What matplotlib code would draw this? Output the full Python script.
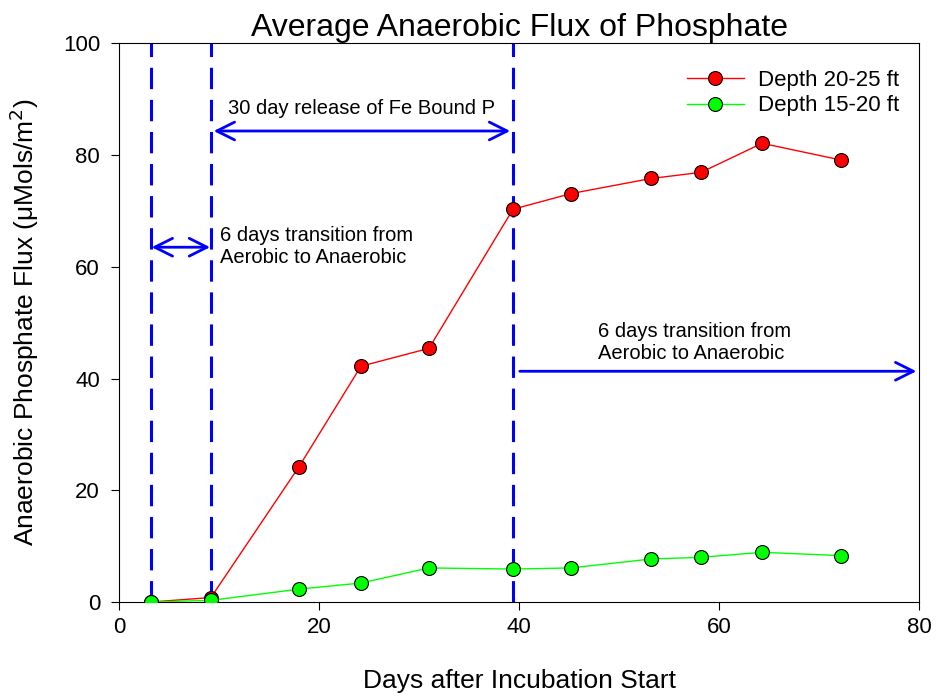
import numpy as np
import matplotlib.pyplot as plt

plt.rcParams['font.family'] = ['Liberation Sans', 'DejaVu Sans']

# data
days = [3.2, 9.2, 18.0, 24.2, 31.0, 39.4, 45.2, 53.2, 58.2, 64.3, 72.2]
flux_deep = [0.0, 0.8, 24.2, 42.2, 45.4, 70.3, 73.1, 75.8, 76.9, 82.1, 79.1]
flux_shallow = [0.0, 0.3, 2.3, 3.4, 6.1, 5.9, 6.1, 7.7, 8.0, 8.9, 8.3]

phase_days = [3.2, 9.2, 39.4]

fig = plt.figure(figsize=(9.36, 6.98), dpi=100)
ax = fig.add_axes([0.127, 0.1375, 0.855, 0.8005])

# phase boundaries
for d in phase_days:
    ax.axvline(d, color='#0000ff', ls=(0, (7, 3.5)), lw=2.2, zorder=1)

ax.plot(days, flux_deep, color='red', lw=1, marker='o', ms=10,
        mfc='red', mec='black', mew=0.8, label='Depth 20-25 ft', zorder=3)
ax.plot(days, flux_shallow, color='#00ff00', lw=1, marker='o', ms=10,
        mfc='#00ff00', mec='black', mew=0.8, label='Depth 15-20 ft', zorder=3)

# arrows
arr = dict(arrowstyle='<->', color='#0000ff', lw=2, mutation_scale=32)
ax.annotate('', xy=(9.2, 84.3), xytext=(39.4, 84.3), arrowprops=arr)
ax.annotate('', xy=(3.0, 63.5), xytext=(9.4, 63.5), arrowprops=arr)
ax.annotate('', xy=(80, 41.3), xytext=(39.8, 41.3),
            arrowprops=dict(arrowstyle='->', color='#0000ff', lw=2, mutation_scale=32),
            annotation_clip=False)

ax.text(24.3, 88.4, '30 day release of Fe Bound P', ha='center', va='center', fontsize=14.5)
ax.text(10.1, 63.6, '6 days transition from\nAerobic to Anaerobic', ha='left',
        va='center', fontsize=14.5, linespacing=1.2)
ax.text(47.9, 46.4, '6 days transition from\nAerobic to Anaerobic', ha='left',
        va='center', fontsize=14.5, linespacing=1.2)

ax.set_xlim(0, 80)
ax.set_ylim(0, 100)
ax.set_xticks([0, 20, 40, 60, 80])
ax.set_yticks([0, 20, 40, 60, 80, 100])
ax.tick_params(labelsize=16, direction='out', top=False, right=False)
ax.tick_params(axis='x', length=6, pad=5)
ax.tick_params(axis='y', length=5.5, pad=8)

ax.set_title('Average Anaerobic Flux of Phosphate', fontsize=23, pad=2)
ax.set_xlabel('Days after Incubation Start', fontsize=19, labelpad=22)
ax.set_ylabel('Anaerobic Phosphate Flux (\u03bcMols/m$^2$)', fontsize=19, labelpad=16)

ax.legend(loc='upper right', frameon=False, fontsize=16, handlelength=2.6,
          handletextpad=0.6, borderaxespad=0.8, labelspacing=0.2,
          bbox_to_anchor=(1.008, 1.0))

plt.savefig('out.png', dpi=100)
